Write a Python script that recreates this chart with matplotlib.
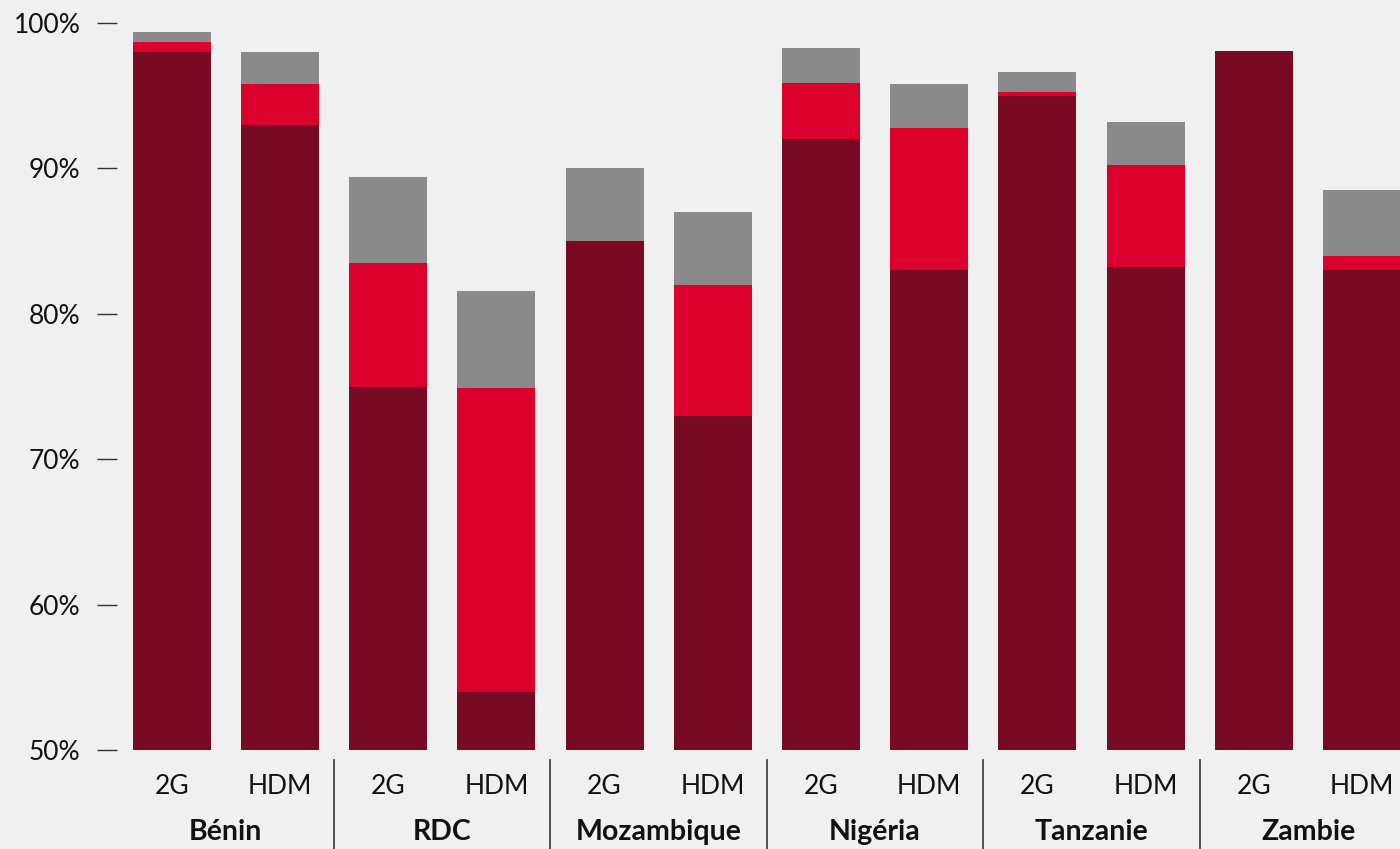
import matplotlib
matplotlib.use("Agg")
import matplotlib.pyplot as plt
import matplotlib.transforms as mtransforms
import numpy as np

countries = ["Bénin", "RDC", "Mozambique", "Nigéria", "Tanzanie", "Zambie"]
techs = ["2G", "HDM"]
# cumulative tops (percent)
dark = [98.0, 93.0, 75.0, 54.0, 85.0, 73.0, 92.0, 83.0, 95.0, 83.2, 98.1, 83.0]
red_top = [98.7, 95.8, 83.5, 74.9, 85.0, 82.0, 95.9, 92.8, 95.25, 90.2, 98.1, 84.0]
gray_top = [99.4, 98.0, 89.4, 81.6, 90.0, 87.0, 98.3, 95.8, 96.6, 93.2, 98.1, 88.5]
yticks = [50, 60, 70, 80, 90, 100]

C_DARK = "#780a23"
C_RED = "#dc002d"
C_GRAY = "#8a8a8a"
BG = "#f0f0f0"

plt.rcParams['font.family'] = ['Lato', 'DejaVu Sans']

W, H = 1400, 849
fig = plt.figure(figsize=(W/100, H/100), dpi=100, facecolor=BG)
ax = fig.add_axes([117/W, (H-750)/H, (1400-117)/W, (750-23)/H])
ax.set_facecolor(BG)

x = np.arange(len(dark))
base = 50
dark_h = [d - base for d in dark]
red_h = [r - d for r, d in zip(red_top, dark)]
gray_h = [g - r for g, r in zip(gray_top, red_top)]
bw = 0.72
ax.bar(x, dark_h, bw, bottom=base, color=C_DARK, linewidth=0)
ax.bar(x, red_h, bw, bottom=dark, color=C_RED, linewidth=0)
ax.bar(x, gray_h, bw, bottom=red_top, color=C_GRAY, linewidth=0)

ax.set_ylim(50, 100)
ax.set_xlim(-0.505, 11.35)
for s in ax.spines.values():
    s.set_visible(False)

ax.set_yticks(yticks)
ax.set_yticklabels([f"{v}%" for v in yticks], fontsize=19, fontweight='normal', color='#111111')
ax.tick_params(axis='y', length=14.4, width=1.0, color='#333333', pad=12)
ax.set_xticks([])

trans = mtransforms.blended_transform_factory(ax.transData, ax.transAxes)
ax_h = 750 - 23
for i, xi in enumerate(x):
    ax.text(xi, -(787-750)/ax_h, techs[i % 2], transform=trans, ha='center', va='center',
            fontsize=19, fontweight='normal', color='#111111', clip_on=False)
for g, name in enumerate(countries):
    ax.text(2*g + 0.5, -(832-750)/ax_h, name, transform=trans, ha='center', va='center',
            fontsize=20.5, fontweight='bold', color='#111111', clip_on=False)
for g in range(1, len(countries)):
    ax.plot([2*g - 0.5, 2*g - 0.5], [-(760-750)/ax_h, -(849-750)/ax_h], transform=trans,
            color='#444444', lw=1.3, clip_on=False)

fig.savefig("out.png", dpi=100, facecolor=BG)
